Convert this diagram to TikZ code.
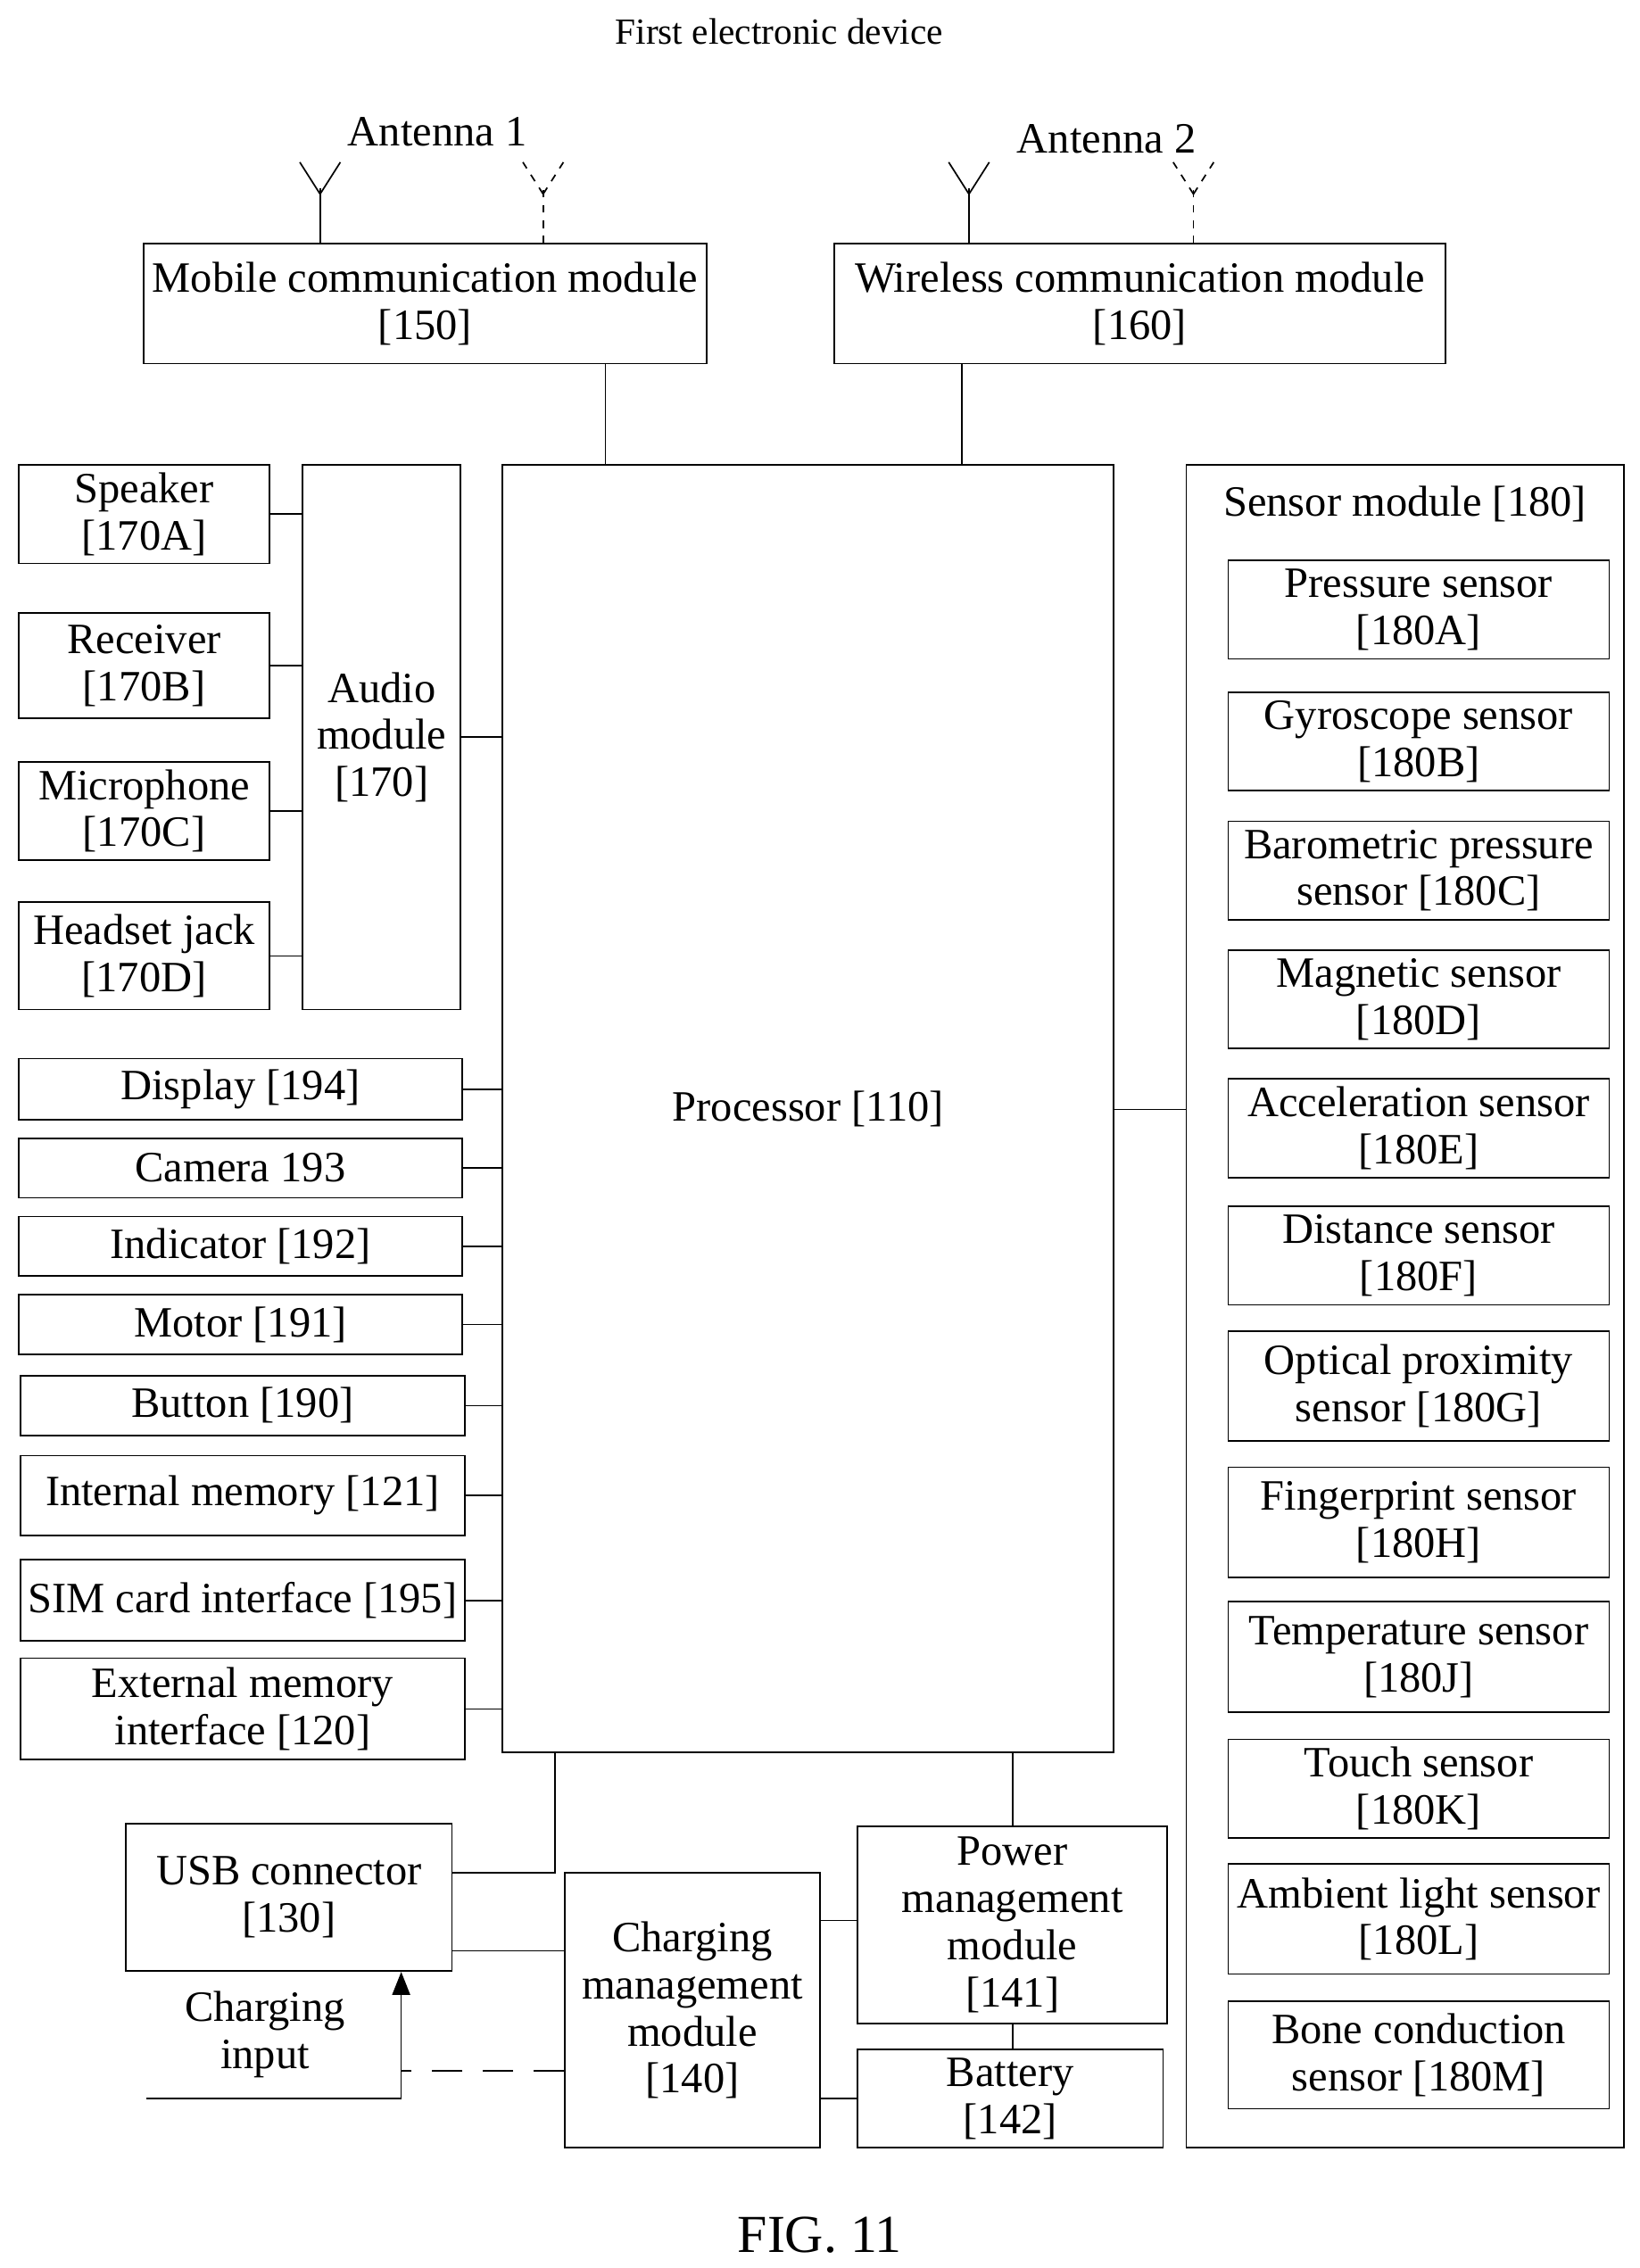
\documentclass[tikz,border=0pt]{standalone}
\usepackage{fontspec}
\setmainfont{Liberation Serif}
\usetikzlibrary{arrows.meta}
\tikzset{
  box/.style={draw, align=center, inner sep=1pt, font=\fontsize{17}{18.5}\selectfont},
  lbl/.style={align=center, inner sep=1pt, font=\fontsize{17}{18.5}\selectfont},
  ant/.style={line width=0.6pt},
}
\begin{document}
\begin{tikzpicture}[x=0.02cm, y=-0.02cm, line width=0.6pt]
\useasboundingbox (0,0) rectangle (1132,1566);

% Titles
\node (title) [font=\fontsize{14.5}{16}\selectfont] at (538,22) {First electronic device};
\node (fig) [font=\fontsize{21}{23}\selectfont] at (566,1543) {FIG. 11};

% Antennas
\node (a1) [lbl] at (302,91) {Antenna 1};
\node (a2) [lbl] at (764,96) {Antenna 2};
\foreach \x/\s in {221/solid, 375/dashed, 669/solid, 824/dashed} {
  \draw [\s] (\x,168) -- (\x,130);
  \draw [\s] (\x,134) -- (\x-14,112);
  \draw [\s] (\x,134) -- (\x+14,112);
}

% Communication modules
\node (mob) [box, minimum width=389*0.02cm, minimum height=83*0.02cm] at (293.5,209.5) {Mobile communication module\\{[150]}};
\node (wir) [box, minimum width=422*0.02cm, minimum height=83*0.02cm] at (787,209.5) {Wireless communication module\\{[160]}};

% Processor
\node (proc) [box, minimum width=422*0.02cm, minimum height=889*0.02cm] at (558,765.5) {Processor [110]};

% Audio
\node (audio) [box, minimum width=109*0.02cm, minimum height=376*0.02cm] at (263.5,509) {Audio\\module\\{[170]}};
\node (spk) [box, minimum width=173*0.02cm, minimum height=68*0.02cm] at (99.5,355) {Speaker\\{[170A]}};
\node (rec) [box, minimum width=173*0.02cm, minimum height=73*0.02cm] at (99.5,459.5) {Receiver\\{[170B]}};
\node (mic) [box, minimum width=173*0.02cm, minimum height=68*0.02cm] at (99.5,560) {Microphone\\{[170C]}};
\node (hs)  [box, minimum width=173*0.02cm, minimum height=74*0.02cm] at (99.5,660) {Headset jack\\{[170D]}};

% Left peripherals
\node (disp) [box, minimum width=306*0.02cm, minimum height=42*0.02cm] at (166,752) {Display [194]};
\node (cam)  [box, minimum width=306*0.02cm, minimum height=41*0.02cm] at (166,806.5) {Camera 193};
\node (ind)  [box, minimum width=306*0.02cm, minimum height=41*0.02cm] at (166,860.5) {Indicator [192]};
\node (mot)  [box, minimum width=306*0.02cm, minimum height=41*0.02cm] at (166,914.5) {Motor [191]};
\node (btn)  [box, minimum width=307*0.02cm, minimum height=41*0.02cm] at (167.5,970.5) {Button [190]};
\node (intm) [box, minimum width=307*0.02cm, minimum height=55*0.02cm] at (167.5,1032.5) {Internal memory [121]};
\node (sim)  [box, minimum width=307*0.02cm, minimum height=56*0.02cm] at (167.5,1105) {SIM card interface [195]};
\node (ext)  [box, minimum width=307*0.02cm, minimum height=70*0.02cm] at (167.5,1180) {External memory\\interface [120]};

% Sensor module
\node (sens) [draw, minimum width=302*0.02cm, minimum height=1162*0.02cm] at (970,902) {};
\node (senst) [lbl] at (970,348) {Sensor module [180]};
\foreach \n/\y/\h/\t in {
  pres/421/68/{Pressure sensor\\{[180A]}},
  gyro/512/68/{Gyroscope sensor\\{[180B]}},
  baro/601/68/{Barometric pressure\\sensor [180C]},
  magn/690/68/{Magnetic sensor\\{[180D]}},
  acc/779/68/{Acceleration sensor\\{[180E]}},
  dist/867/68/{Distance sensor\\{[180F]}},
  opt/957/76/{Optical proximity\\sensor [180G]},
  fing/1051/76/{Fingerprint sensor\\{[180H]}},
  temp/1144/76/{Temperature sensor\\{[180J]}},
  touch/1235/68/{Touch sensor\\{[180K]}},
  amb/1325/76/{Ambient light sensor\\{[180L]}},
  bone/1419/74/{Bone conduction\\sensor [180M]}} {
  \node (\n) [box, minimum width=263*0.02cm, minimum height=\h*0.02cm] at (979.5,\y) {\t};
}

% Power section
\node (usb) [box, minimum width=225*0.02cm, minimum height=102*0.02cm] at (199.5,1310) {USB connector\\{[130]}};
\node (chg) [box, minimum width=176*0.02cm, minimum height=190*0.02cm] at (478,1388) {Charging\\management\\module\\{[140]}};
\node (pwr) [box, minimum width=214*0.02cm, minimum height=136*0.02cm] at (699,1329) {Power\\management\\module\\{[141]}};
\node (bat) [box, minimum width=211*0.02cm, minimum height=68*0.02cm] at (697.5,1449) {Battery\\{[142]}};
\node (cin) [lbl] at (183,1405) {Charging\\input};

% Connections
\draw (mob.south -| 418,0) -- (proc.north -| 418,0);
\draw (wir.south -| 664,0) -- (proc.north -| 664,0);
\draw (audio.east) -- (audio.east -| proc.west);
\foreach \n in {spk, rec, mic, hs}
  \draw (\n.east) -- (\n.east -| audio.west);
\foreach \n in {disp, cam, ind, mot, btn, intm, sim, ext}
  \draw (\n.east) -- (\n.east -| proc.west);
\draw (proc.east |- 0,766) -- (sens.west |- 0,766);
\draw (proc.south -| 383,0) |- (usb.east |- 0,1293);
\draw (proc.south -| pwr.north) -- (pwr.north);
\draw (pwr.south -| 699,0) -- (bat.north -| 699,0);
\draw (usb.east |- 0,1347) -- (chg.west |- 0,1347);
\draw (chg.east |- 0,1326) -- (pwr.west |- 0,1326);
\draw (chg.east |- 0,1449) -- (bat.west |- 0,1449);
\coordinate (cinl) at (101,1449);
\coordinate (cinc) at (277,1449);
\draw [-{Triangle[length=9pt, width=7pt]}] (cinl) -- (cinc) -- (usb.south -| cinc);
\draw [dashed, dash pattern=on 12pt off 8pt] (chg.west |- 0,1430) -- (cinc |- 0,1430);

\end{tikzpicture}
\end{document}
